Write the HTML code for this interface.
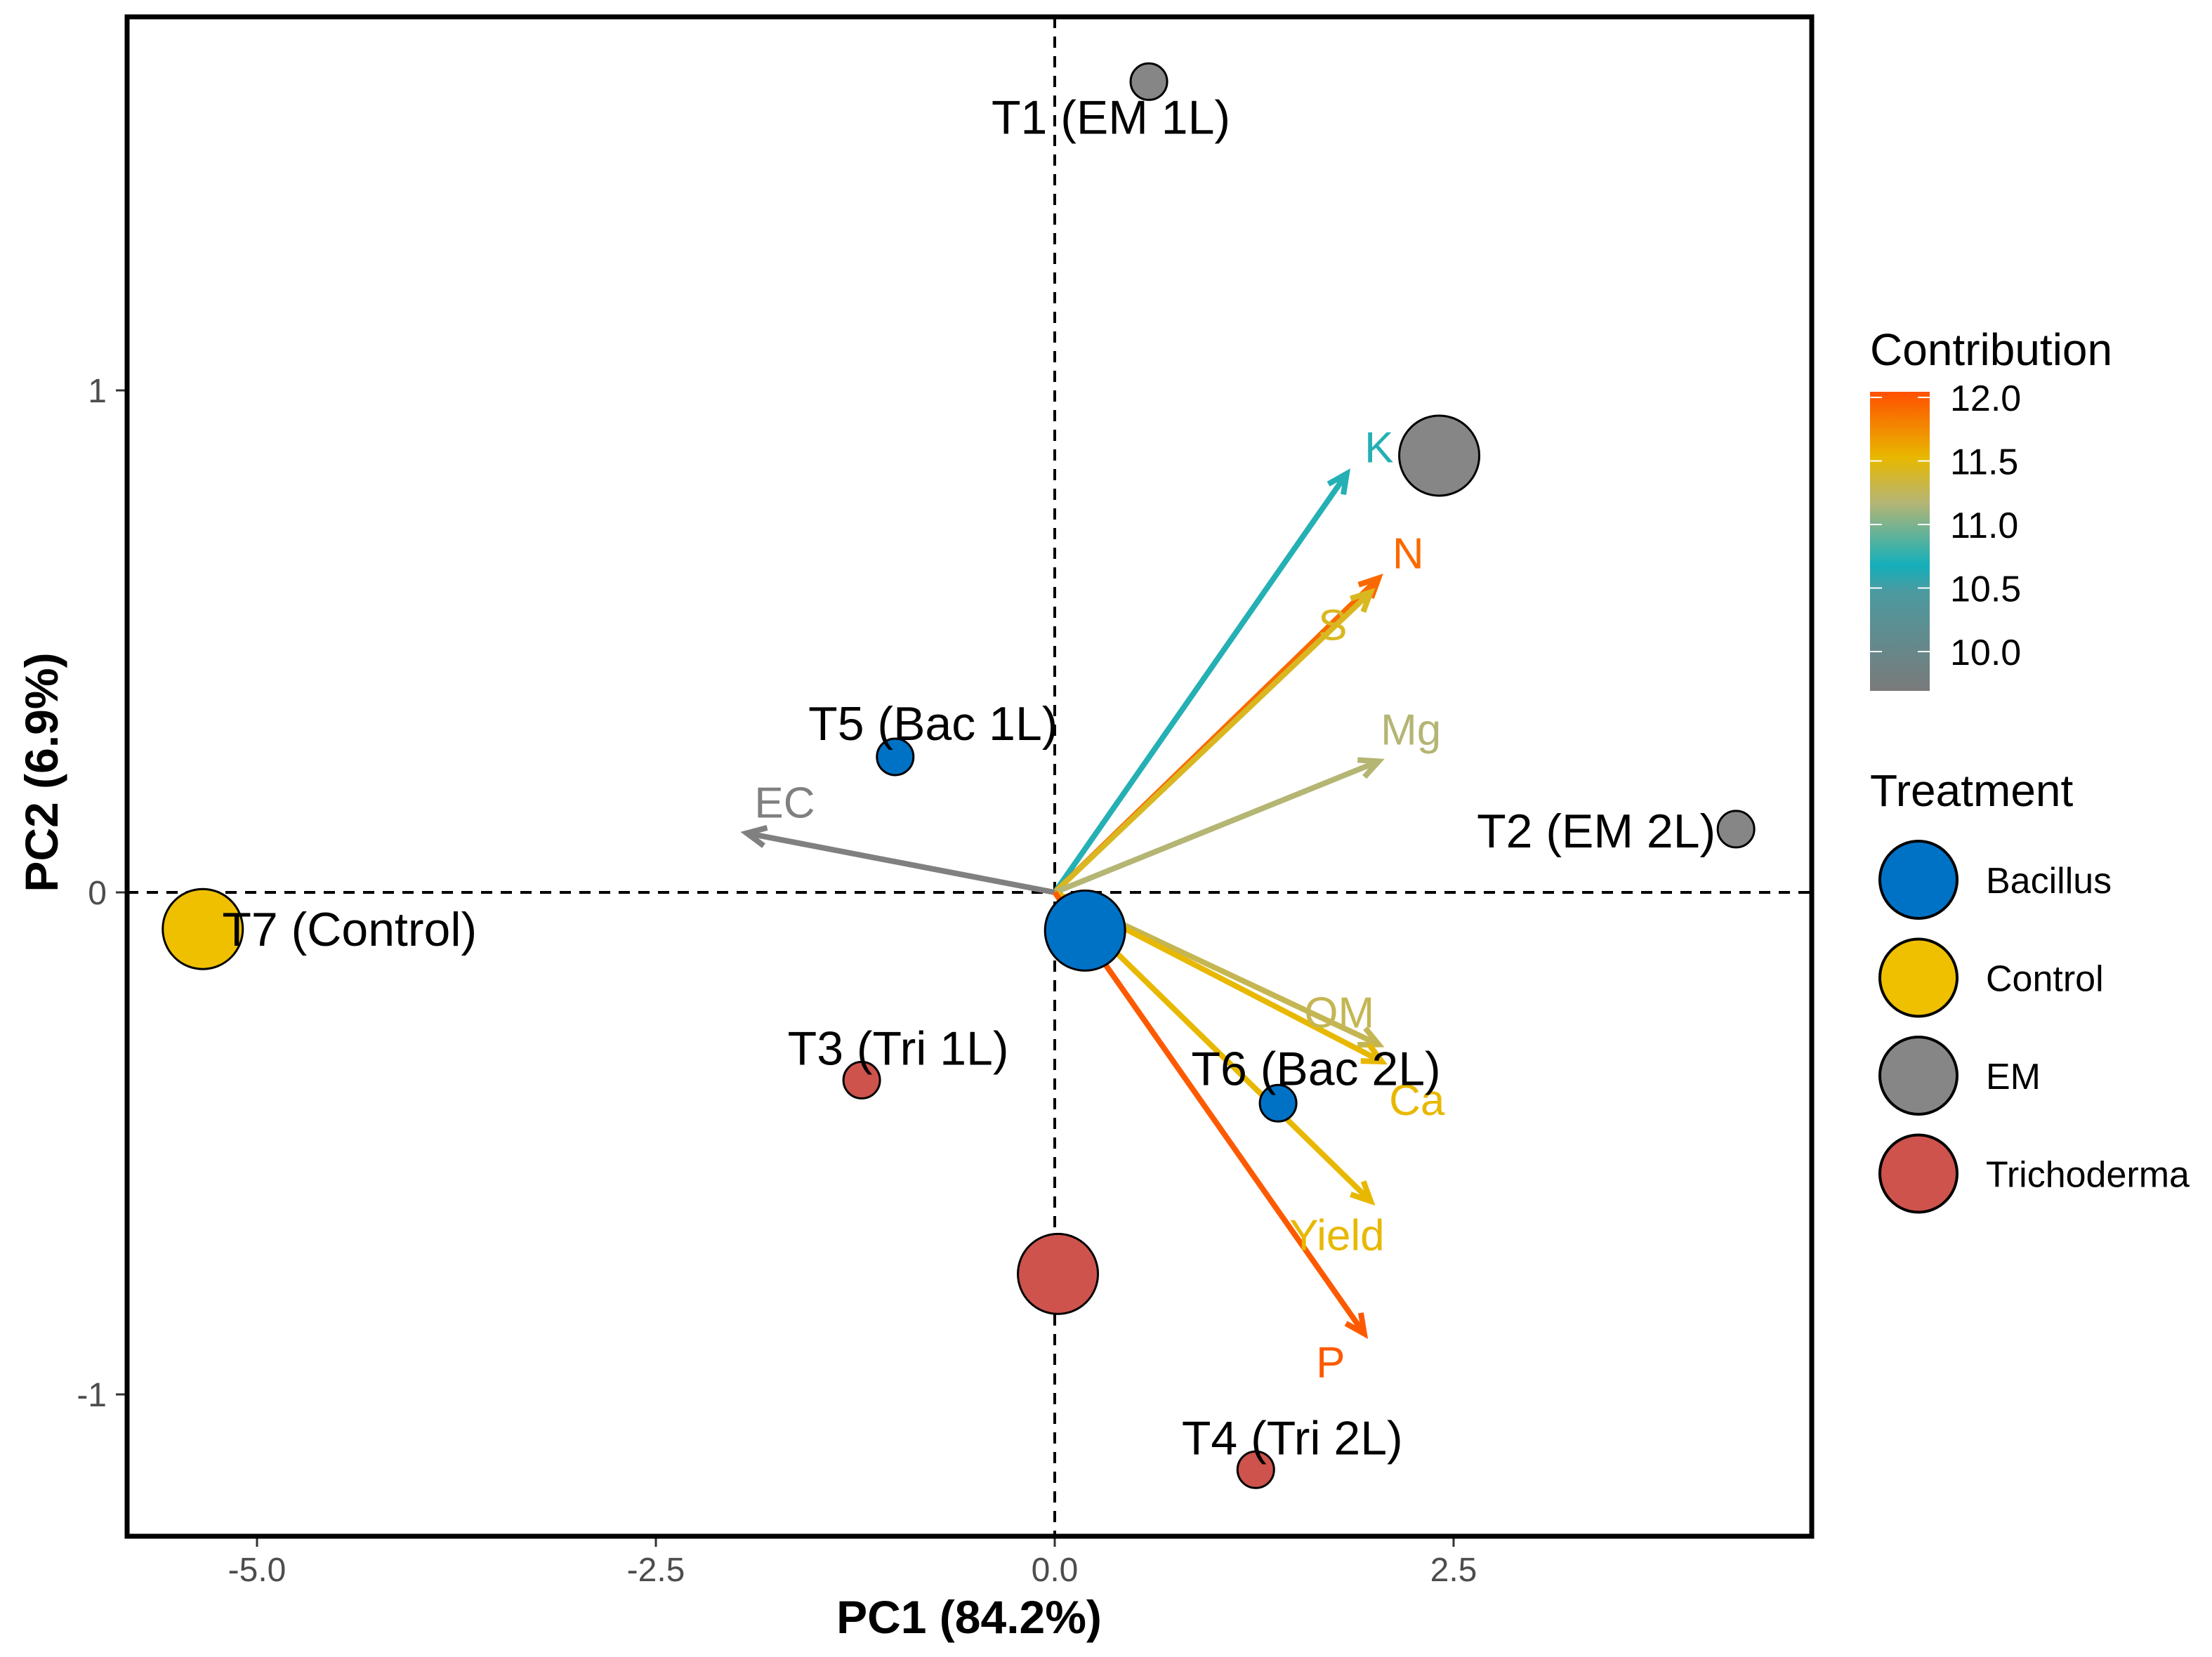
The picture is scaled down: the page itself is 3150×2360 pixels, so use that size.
<!DOCTYPE html>
<html><head><meta charset="utf-8"><style>
html,body{margin:0;padding:0;background:#fff;}
svg{display:block;font-family:"Liberation Sans",Arial,sans-serif;}
</style></head>
<body>
<svg id="chart" width="3150" height="2360" viewBox="0 0 3150 2360" xmlns="http://www.w3.org/2000/svg">
<defs>
<linearGradient id="cbar" x1="0" y1="1" x2="0" y2="0">
<stop offset="0" stop-color="#7a7a7a"/>
<stop offset="0.33" stop-color="#4c9aa0"/>
<stop offset="0.42" stop-color="#14afbb"/>
<stop offset="0.63" stop-color="#b5b574"/>
<stop offset="0.78" stop-color="#e8b800"/>
<stop offset="1" stop-color="#ff5000"/>
</linearGradient>
</defs>
<rect width="3150" height="2360" fill="#fff"/>
<g id="axes"></g>
<g id="marks"></g>
<rect x="181" y="24" width="2399" height="2164" fill="none" stroke="#000" stroke-width="7"/>
<text x="1380" y="2326" font-size="66" font-weight="bold" text-anchor="middle">PC1 (84.2%)</text>
<text x="82" y="1100" font-size="66" font-weight="bold" text-anchor="middle" transform="rotate(-90 82 1100)">PC2 (6.9%)</text>
<g>
<text x="2663" y="520" font-size="64">Contribution</text>
<rect x="2663" y="558" width="85" height="426" fill="url(#cbar)"/>
<g id="cbticks"></g>
</g>
<g id="tlegend">
<text x="2663" y="1148" font-size="64">Treatment</text>
</g>
</svg>
<script>
const NS='http://www.w3.org/2000/svg';
// data
const xTicks=[-5.0,-2.5,0.0,2.5];
const xTickLabels=['-5.0','-2.5','0.0','2.5'];
const yTicks=[-1,0,1];
const yTickLabels=['-1','0','1'];
const pointNames=['T1 (EM 1L)','T2 (EM 2L)','','T5 (Bac 1L)','T7 (Control)','','T3 (Tri 1L)','T6 (Bac 2L)','','T4 (Tri 2L)'];
const pointGroups=['EM','EM','EM','Bacillus','Control','Bacillus','Trichoderma','Bacillus','Trichoderma','Trichoderma'];
const pointX=[0.59,4.27,2.41,-1.0,-5.34,0.19,-1.21,1.40,0.02,1.26];
const pointY=[1.615,0.126,0.87,0.27,-0.073,-0.076,-0.374,-0.42,-0.76,-1.15];
const pointSize=[1,1,2,1,2,2,1,1,2,1];
const varNames=['K','N','S','Mg','EC','OM','Ca','Yield','P'];
const varX=[1.83,2.03,1.98,2.03,-1.93,2.03,2.05,1.98,1.94];
const varY=[0.834,0.626,0.598,0.261,0.118,-0.303,-0.337,-0.615,-0.879];
const varContrib=[10.55,11.9,11.25,11.0,9.5,11.1,11.35,11.35,12.0];
const cbTicks=[10.0,10.5,11.0,11.5,12.0];
const cbTickLabels=['10.0','10.5','11.0','11.5','12.0'];
const groups=['Bacillus','Control','EM','Trichoderma'];
const groupColors=['#0072c6','#efc000','#868686','#cd534c'];

// scales
const sx=v=>1502+v*227.2;
const sy=v=>1271-v*715;
const cby=v=>928-(v-10)*181;
function contribColor(v){
  const st=[[9.71,[128,128,128]],[10.5,[20,175,187]],[11.0,[181,181,116]],[11.35,[232,184,0]],[12.07,[255,80,0]]];
  if(v<=st[0][0])return 'rgb('+st[0][1]+')';
  for(let i=1;i<st.length;i++){if(v<=st[i][0]){const t=(v-st[i-1][0])/(st[i][0]-st[i-1][0]);const c=st[i-1][1].map((a,k)=>Math.round(a+(st[i][1][k]-a)*t));return 'rgb('+c+')';}}
  return 'rgb('+st[st.length-1][1]+')';
}
function mk(tag,attrs,parent){const e=document.createElementNS(NS,tag);for(const k in attrs)e.setAttribute(k,attrs[k]);parent.appendChild(e);return e;}
const axes=document.getElementById('axes');
const marks=document.getElementById('marks');

// zero lines
let l=mk('line',{x1:sx(0),x2:sx(0),y1:24,y2:2188,stroke:'#000','stroke-width':4,'stroke-dasharray':'16 12'},axes);


l=mk('line',{x1:181,x2:2580,y1:sy(0),y2:sy(0),stroke:'#000','stroke-width':4,'stroke-dasharray':'16 12'},axes);



xTicks.forEach((v,i)=>{
  const t=mk('line',{x1:sx(v),x2:sx(v),y1:2190,y2:2203,stroke:'#333','stroke-width':3},axes);
  
  
  const tx=mk('text',{x:sx(v),y:2252,'font-size':48,fill:'#4d4d4d','text-anchor':'middle'},axes);
  tx.textContent=xTickLabels[i];
  
  
});
yTicks.forEach((v,i)=>{
  const t=mk('line',{x1:165,x2:178,y1:sy(v),y2:sy(v),stroke:'#333','stroke-width':3},axes);
  
  
  const tx=mk('text',{x:152,y:sy(v)+17,'font-size':48,fill:'#4d4d4d','text-anchor':'end'},axes);
  tx.textContent=yTickLabels[i];
  
  
});

// arrows
const ox=sx(0),oy=sy(0);
varNames.forEach((n,i)=>{
  const c=contribColor(varContrib[i]);
  const x2=sx(varX[i]),y2=sy(varY[i]);
  const g=mk('g',{},marks);
  
  
  mk('line',{x1:ox,y1:oy,x2:x2,y2:y2,stroke:c,'stroke-width':8},g);
  const a=Math.atan2(y2-oy,x2-ox),L=30,s=0.45;
  const p=`M${x2-L*Math.cos(a-s)},${y2-L*Math.sin(a-s)} L${x2},${y2} L${x2-L*Math.cos(a+s)},${y2-L*Math.sin(a+s)}`;
  mk('path',{d:p,fill:'none',stroke:c,'stroke-width':8,'stroke-linejoin':'miter'},g);
});
// points
pointX.forEach((v,i)=>{
  const gi=groups.indexOf(pointGroups[i]);
  const c=mk('circle',{cx:sx(v),cy:sy(pointY[i]),r:pointSize[i]===2?57:26,fill:groupColors[gi],stroke:'#000','stroke-width':3},marks);
  
  
});
// arrow labels
const vlDx=[46,42,-54,46,54,-56,50,-48,-48];
const vlDy=[-38,-36,46,-46,-44,-46,54,48,40];
varNames.forEach((n,i)=>{
  const t=mk('text',{x:sx(varX[i])+vlDx[i],y:sy(varY[i])+vlDy[i]+22,'font-size':62,fill:contribColor(varContrib[i]),'text-anchor':'middle'},marks);
  t.textContent=n;
  
  
});
// point labels
const plDx=[-54,-199,0,54,209,0,52,54,0,52];
const plDy=[74,26,0,-24,24,0,-22,-26,0,-22];
pointNames.forEach((n,i)=>{
  if(!n)return;
  const t=mk('text',{x:sx(pointX[i])+plDx[i],y:sy(pointY[i])+plDy[i],'font-size':68,fill:'#000','text-anchor':'middle'},marks);
  t.textContent=n;
  
  
});
// colorbar ticks
const cbg=document.getElementById('cbticks');
cbTicks.forEach((v,i)=>{
  const a=mk('line',{x1:2663,x2:2680,y1:cby(v),y2:cby(v),stroke:'#fff','stroke-width':2},cbg);
  
  
  const b=mk('line',{x1:2731,x2:2748,y1:cby(v),y2:cby(v),stroke:'#fff','stroke-width':2},cbg);
  
  
  const t=mk('text',{x:2777,y:cby(v)+19,'font-size':52,fill:'#000'},cbg);
  t.textContent=cbTickLabels[i];
  
  
});
// treatment legend
const tl=document.getElementById('tlegend');
groups.forEach((g,i)=>{
  const cy=1253+i*139.5;
  const e=mk('g',{},tl);
  
  
  mk('circle',{cx:2732,cy:cy,r:55,fill:groupColors[i],stroke:'#000','stroke-width':4},e);
  const t=mk('text',{x:2828,y:cy+19,'font-size':52,fill:'#000'},e);
  t.textContent=g;
});
</script>
</body></html>
